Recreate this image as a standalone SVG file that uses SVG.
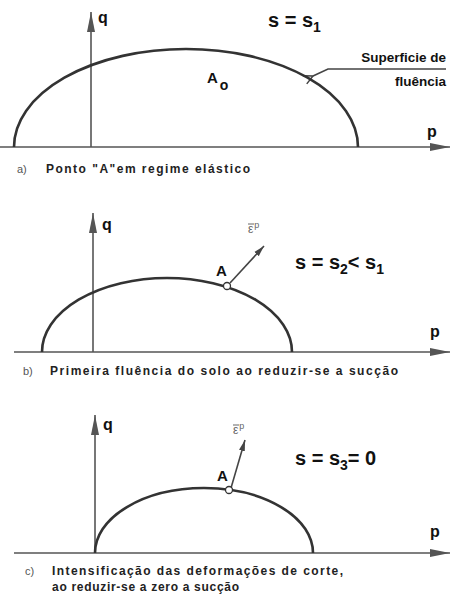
<svg xmlns="http://www.w3.org/2000/svg" width="452" height="601" viewBox="0 0 452 601">
<style>
.axis{stroke:#555;stroke-width:1.6;fill:none}
.curve{stroke:#333;stroke-width:2.6;fill:none}
.vec{stroke:#444;stroke-width:1.6;fill:none}
.lbl{font-family:"Liberation Sans",Arial,sans-serif;font-weight:bold;fill:#111}
.cap{font-family:"Liberation Sans",Arial,sans-serif;font-weight:bold;font-size:12px;fill:#222}
.ab{font-family:"Liberation Sans",Arial,sans-serif;font-size:11px;fill:#555}
.eps{font-family:"Liberation Sans",Arial,sans-serif;font-size:12px;fill:#666}
.pa{fill:#fff;stroke:#333;stroke-width:1.3}
</style>
<defs>
<marker id="ax" markerUnits="userSpaceOnUse" markerWidth="22" markerHeight="10" refX="20" refY="5" orient="auto"><path d="M0,1 L20,5 L0,9 Z" fill="#555"/></marker>
<marker id="vh" markerUnits="userSpaceOnUse" markerWidth="12" markerHeight="8" refX="11" refY="4" orient="auto"><path d="M0,1 L11,4 L0,7 Z" fill="#444"/></marker>
<marker id="open" markerUnits="userSpaceOnUse" markerWidth="12" markerHeight="12" refX="1" refY="6" orient="auto"><path d="M10,1.5 L1,6 L10,10.5" fill="none" stroke="#444" stroke-width="1.5"/></marker>
</defs>
<rect width="452" height="601" fill="#fff"/>

<g id="connectors">
<line class="axis" x1="0" y1="147" x2="450" y2="147" marker-end="url(#ax)"/>
<line class="axis" x1="91" y1="147" x2="91" y2="12" marker-end="url(#ax)"/>
<polyline class="vec" points="446,69 328,69 313,76" marker-end="url(#open)"/>
<line class="axis" x1="14" y1="352" x2="450" y2="352" marker-end="url(#ax)"/>
<line class="axis" x1="93" y1="352" x2="93" y2="213" marker-end="url(#ax)"/>
<line class="vec" x1="230" y1="283" x2="264" y2="246" marker-end="url(#vh)"/>
<line class="axis" x1="14" y1="553" x2="450" y2="553" marker-end="url(#ax)"/>
<line class="axis" x1="95" y1="553" x2="95" y2="415" marker-end="url(#ax)"/>
<line class="vec" x1="231" y1="488" x2="245" y2="440" marker-end="url(#vh)"/>
</g>

<g id="panel-a">
<path class="curve" d="M14,147 A172,98 0 0 1 358,147"/>
<text class="lbl" x="98" y="23" font-size="16">q</text>
<text class="lbl" x="427" y="137" font-size="16">p</text>
<text class="lbl" x="268" y="27" font-size="20">s = s<tspan font-size="14" dy="5">1</tspan></text>
<text class="lbl" x="207" y="83" font-size="15">A<tspan font-size="14" dx="2" dy="7">o</tspan></text>
<text class="lbl" x="446" y="62" font-size="13.5" text-anchor="end">Superficie de</text>
<text class="lbl" x="446" y="86" font-size="13.5" text-anchor="end">fluência</text>
<text class="ab" x="17" y="173">a)</text>
<text class="cap" x="46" y="173" textLength="204">Ponto "A"em regime elástico</text>
</g>

<g id="panel-b">
<path class="curve" d="M42,352 A125,74 0 0 1 292,352"/>
<circle class="pa" cx="227" cy="286" r="3.5"/>
<text class="lbl" x="102" y="230" font-size="16">q</text>
<text class="lbl" x="430" y="337" font-size="16">p</text>
<text class="lbl" x="216" y="276" font-size="15">A</text>
<text class="eps" x="248" y="233">ε<tspan font-size="9" dx="1" dy="-5">p</tspan></text>
<line x1="248" y1="224" x2="254" y2="224" stroke="#666" stroke-width="1"/>
<text class="lbl" x="295" y="269" font-size="20">s = s<tspan font-size="14" dy="5">2</tspan><tspan dy="-5">&lt; s</tspan><tspan font-size="14" dy="5">1</tspan></text>
<text class="ab" x="23" y="375">b)</text>
<text class="cap" x="50" y="375" textLength="348">Primeira fluência do solo ao reduzir-se a sucção</text>
</g>

<g id="panel-c">
<path class="curve" d="M95,553 A109,65 0 0 1 313,553"/>
<circle class="pa" cx="229" cy="490" r="3.5"/>
<text class="lbl" x="103" y="430" font-size="16">q</text>
<text class="lbl" x="430" y="537" font-size="16">p</text>
<text class="lbl" x="217" y="481" font-size="15">A</text>
<text class="eps" x="233" y="434">ε<tspan font-size="9" dx="1" dy="-5">p</tspan></text>
<line x1="233" y1="425" x2="239" y2="425" stroke="#666" stroke-width="1"/>
<text class="lbl" x="295" y="465" font-size="20">s = s<tspan font-size="14" dy="5">3</tspan><tspan dy="-5">= 0</tspan></text>
<text class="ab" x="25" y="575">c)</text>
<text class="cap" x="52" y="575" textLength="291">Intensificação das deformações de corte,</text>
<text class="cap" x="52" y="591" textLength="187">ao reduzir-se a zero a sucção</text>
</g>
</svg>
